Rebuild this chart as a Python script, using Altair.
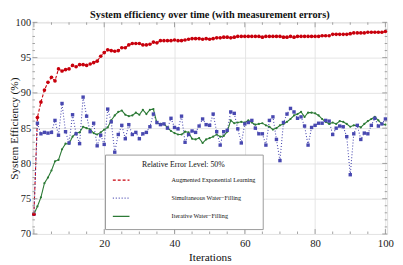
import altair as alt
import pandas as pd

iterations = list(range(0, 101))

series_names = [
    "Augmented Exponential Learning",
    "Simultaneous Water\u2212Filling",
    "Iterative Water\u2212Filling",
]

augmented = [
    72.8, 86.5, 88.7, 90.4, 91.5, 92.2, 91.7, 93.4, 93.1, 93.3,
    93.4, 93.9, 93.7, 94.0, 94.0, 93.9, 94.1, 94.3, 94.5, 95.2,
    95.7, 96.1, 96.0, 95.9, 96.0, 96.4, 96.4, 96.8, 97.0, 97.0,
    97.0, 96.8, 96.8, 96.9, 97.2, 97.1, 97.4, 97.4, 97.4, 97.4,
    97.5, 97.4, 97.4, 97.5, 97.6, 97.7, 97.7, 97.7, 97.6, 97.7,
    97.6, 97.7, 97.8, 97.8, 97.9, 97.9, 97.8, 97.9, 98.0, 98.0,
    98.0, 98.0, 98.0, 98.0, 98.0, 97.9, 98.0, 98.0, 98.0, 98.0,
    98.0, 97.9, 97.9, 98.0, 97.9, 98.0, 98.0, 98.0, 98.0, 98.0,
    98.0, 98.0, 98.1, 98.1, 98.1, 98.3, 98.3, 98.3, 98.3, 98.3,
    98.4, 98.5, 98.5, 98.5, 98.5, 98.6, 98.6, 98.6, 98.6, 98.6,
    98.7,
]

simultaneous = [
    72.8, 85.7, 84.2, 84.4, 84.3, 84.4, 86.1, 84.0, 88.5, 84.5,
    82.9, 86.9, 84.2, 82.8, 89.4, 86.7, 84.5, 85.7, 82.5, 84.0,
    82.7, 87.7, 85.9, 81.6, 84.1, 85.4, 83.5, 85.5, 84.1, 84.4,
    83.5, 84.2, 84.4, 85.2, 87.0, 85.8, 85.5, 85.6, 85.0, 86.4,
    85.1, 84.9, 86.7, 83.0, 84.1, 84.6, 84.4, 85.3, 86.3, 85.5,
    85.4, 87.0, 84.5, 82.6, 84.5, 84.7, 87.3, 87.1, 84.9, 82.9,
    85.6, 85.8, 86.1, 85.0, 84.2, 84.2, 82.6, 86.1, 86.6, 83.4,
    80.4, 85.8, 87.0, 87.8, 87.3, 86.4, 86.6, 85.3, 82.6, 85.1,
    85.4, 85.7, 85.7, 86.1, 86.0, 84.1, 85.0, 85.3, 85.2, 83.8,
    78.4, 84.2, 85.4, 83.4, 84.3, 84.2, 85.4, 86.4, 85.3, 85.6,
    86.3,
]

iterative = [
    72.8, 73.9, 75.2, 77.2, 78.0, 79.0, 80.3, 80.5, 82.0, 82.8,
    82.8, 83.8, 84.3, 84.4, 85.2, 85.0, 84.8, 84.3, 84.1, 84.4,
    84.8, 85.1, 86.1, 86.8, 87.3, 87.5, 86.9, 86.7, 86.8, 87.2,
    86.9, 87.6, 87.0, 87.6, 87.7, 85.7, 85.6, 85.6, 85.1, 84.6,
    84.3, 84.1, 84.1, 84.5, 84.4, 83.5, 83.4, 83.6, 82.9, 83.4,
    83.6, 83.8, 84.1, 83.8, 83.9, 84.5, 86.1, 85.7, 85.8, 85.9,
    85.8, 86.1, 85.8, 85.5, 85.6, 85.7, 85.4, 85.2, 84.8, 85.0,
    85.4, 85.6, 85.9, 86.3, 86.8, 87.0, 87.3, 86.6, 87.2, 87.2,
    87.1, 86.8, 86.3, 85.9, 85.6, 85.8, 85.6, 86.0, 85.9, 85.6,
    85.2, 85.4, 85.4, 85.1, 85.6, 86.0, 86.3, 86.6, 86.1, 85.6,
    85.5,
]

x_major = [0, 20, 40, 60, 80, 100]
x_minor = [v for v in range(0, 101, 5) if v not in x_major]
y_major = [70, 75, 80, 85, 90, 95, 100]
y_minor = [v for v in range(70, 101) if v not in y_major]
x_labels = [20, 40, 60, 80, 100]

colors = ["#c8000c", "#4848b0", "#2c7a36"]
W, H = 362, 216
SERIF = "Liberation Serif"
TICK = "#8a8a8a"

rows = []
for name, vals in zip(series_names, [augmented, simultaneous, iterative]):
    for it, v in zip(iterations, vals):
        rows.append({"iteration": it, "value": v, "series": name})
df = pd.DataFrame(rows)

xs = alt.Scale(domain=[-0.4, 100.5], nice=False, zero=False)
ys = alt.Scale(domain=[70, 100], nice=False, zero=False)

pad = "\u00a0" * 16
legend = alt.Legend(
    title="Relative Error Level: 50%",
    orient="none", legendX=74, legendY=135,
    padding=7, fillColor="white", strokeColor="#9a9a9a",
    titleFont=SERIF, titleFontSize=8, titleFontWeight="normal", titleColor="#111",
    titleAnchor="middle", titlePadding=5,
    labelFont=SERIF, labelFontSize=6.3, labelColor="#111", labelOffset=42,
    labelExpr="datum.label + '" + pad + "'",
    symbolType="stroke", symbolSize=289, symbolStrokeWidth=1.3,
    clipHeight=12, rowPadding=6.5,
)

x_axis = alt.Axis(values=x_labels, grid=True, gridColor="#e4e4e4", domain=False, ticks=False,
                  labelOverlap=False,
                  labelFont=SERIF, labelFontSize=11, labelColor="#222", labelPadding=4,
                  titleFont=SERIF, titleFontSize=11.5, titleFontWeight="normal",
                  titleColor="#111", titlePadding=3)
y_axis = alt.Axis(values=y_major, grid=True, gridColor="#e4e4e4", domain=False, ticks=False,
                  labelOverlap=False,
                  labelFont=SERIF, labelFontSize=10.5, labelColor="#222", labelPadding=2,
                  titleFont=SERIF, titleFontSize=11.5, titleFontWeight="normal",
                  titleColor="#111", titleX=-13)

def xe():
    return alt.X("iteration:Q", scale=xs, title="Iterations", axis=x_axis)

def ye():
    return alt.Y("value:Q", scale=ys, title="System Efficiency (%)", axis=y_axis)

lines = alt.Chart(df).mark_line(strokeWidth=1.1).encode(
    x=xe(), y=ye(),
    color=alt.Color("series:N", scale=alt.Scale(domain=series_names, range=colors),
                    sort=series_names, legend=legend),
    strokeDash=alt.StrokeDash("series:N",
                              scale=alt.Scale(domain=series_names, range=[[3, 2], [1, 2], [1, 0]]),
                              sort=series_names, legend=legend),
)

def pts(name, shape, size, color):
    return alt.Chart(df[df["series"] == name]).mark_point(
        shape=shape, filled=True, size=size, opacity=1, color=color
    ).encode(x=xe(), y=ye())

p_red = pts(series_names[0], "circle", 14, colors[0])
p_blue = pts(series_names[1], "square", 12, colors[1])
p_green = pts(series_names[2], "circle", 5, colors[2])

def xtick_layer(vals, length, top):
    d = pd.DataFrame({"iteration": vals})
    y0, y1 = (0, length) if top else (H, H - length)
    return alt.Chart(d).mark_rule(color=TICK, strokeWidth=0.8).encode(
        x=xe(), y=alt.value(y0), y2=alt.value(y1))

def ytick_layer(vals, length, left):
    d = pd.DataFrame({"value": vals})
    x0, x1 = (0, length) if left else (W, W - length)
    return alt.Chart(d).mark_rule(color=TICK, strokeWidth=0.8).encode(
        y=ye(), x=alt.value(x0), x2=alt.value(x1))

ticks = [
    xtick_layer(x_major, 5, True), xtick_layer(x_major, 5, False),
    xtick_layer(x_minor, 2.5, True), xtick_layer(x_minor, 2.5, False),
    ytick_layer(y_major, 5, True), ytick_layer(y_major, 5, False),
    ytick_layer(y_minor, 2.5, True), ytick_layer(y_minor, 2.5, False),
]

chart = alt.layer(lines, p_green, p_blue, p_red, *ticks).properties(
    width=W, height=H,
    title=alt.TitleParams("System efficiency over time (with measurement errors)",
                          font=SERIF, fontSize=10.5, fontWeight="bold", color="#111",
                          anchor="middle", offset=1, dy=4),
    autosize=alt.AutoSizeParams(type="none"),
    padding={"left": 25, "top": 12, "right": 8, "bottom": 28},
).configure_view(stroke="#9a9a9a", strokeWidth=1).configure(background="white")

chart.save("out.html", embed_options={"renderer": "svg", "actions": False})
